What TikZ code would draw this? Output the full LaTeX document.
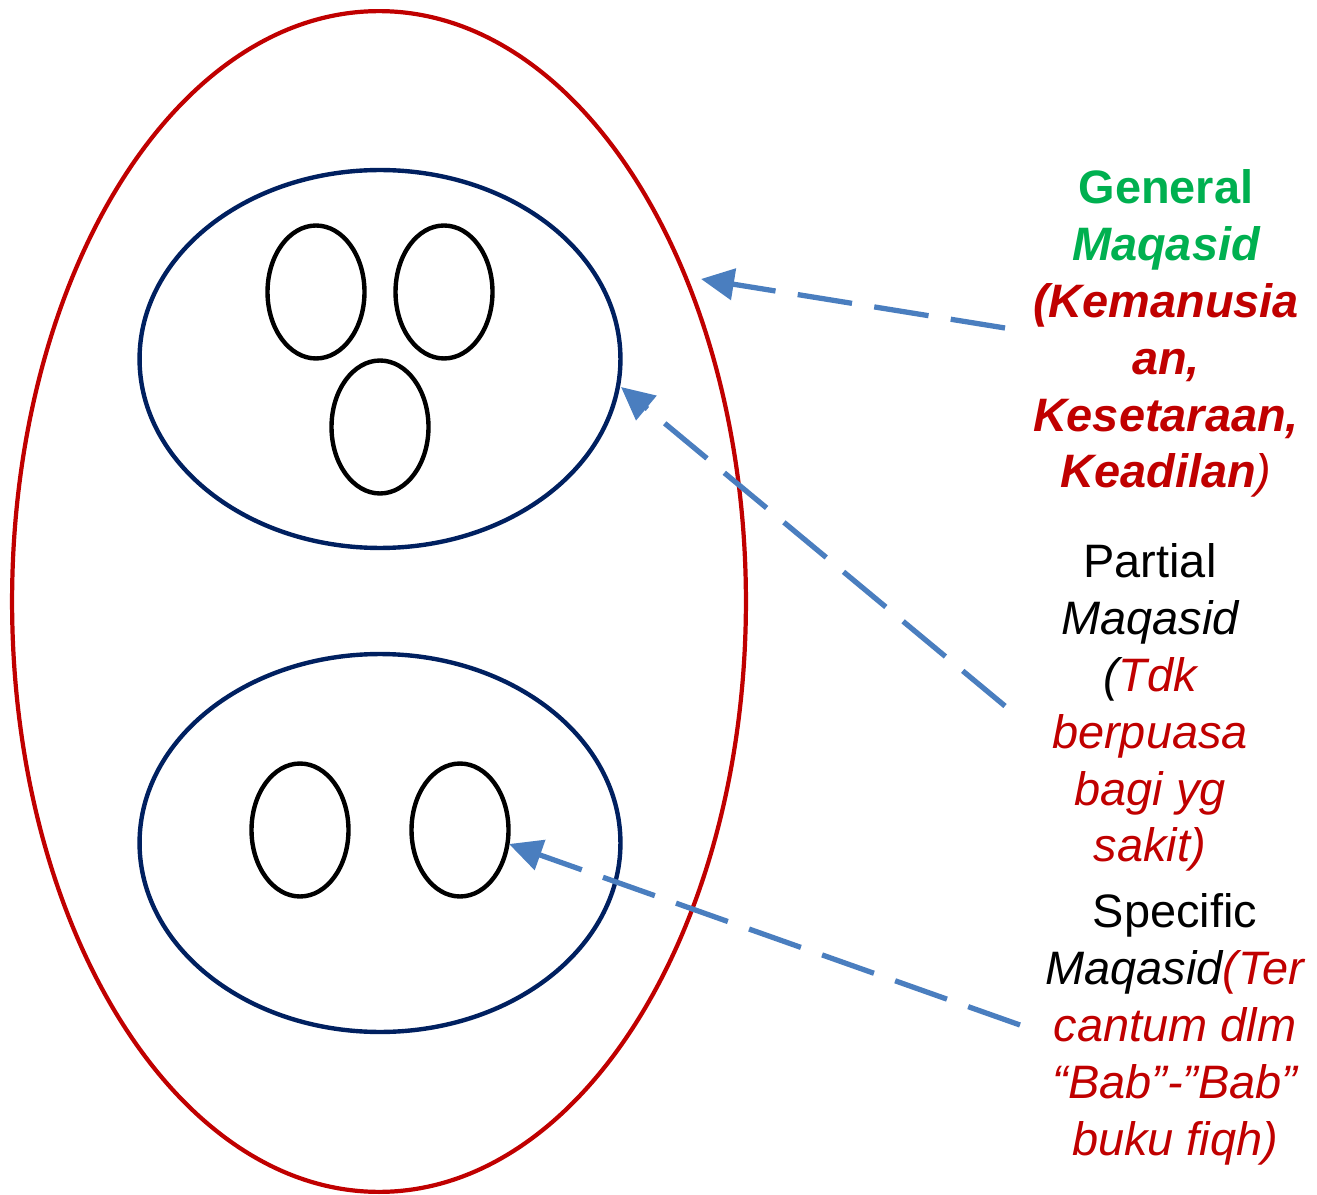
\documentclass[tikz,border=0pt]{standalone}
\usepackage{fontspec}
\setmainfont{Liberation Sans}
\usetikzlibrary{arrows.meta,shapes.geometric}
\definecolor{outerred}{HTML}{C00000}
\definecolor{navyline}{HTML}{002060}
\definecolor{genGreen}{HTML}{00B050}
\definecolor{arrowblue}{HTML}{4A7EBF}
\begin{document}
\begin{tikzpicture}[x=0.02cm,y=-0.02cm,
  outer/.style={ellipse,draw=outerred,line width=2.4pt,inner sep=0pt,minimum width=14.68cm,minimum height=23.62cm},
  group/.style={ellipse,draw=navyline,line width=2.5pt,inner sep=0pt,minimum width=9.62cm,minimum height=7.56cm},
  item/.style={ellipse,draw=black,line width=2.5pt,inner sep=0pt,minimum width=1.94cm,minimum height=2.66cm},
  pointer/.style={draw=arrowblue,line width=3pt,dash pattern=on 1.1cm off 0.45cm,
    -{Triangle[length=0.66cm,width=0.62cm]}},
  label/.style={align=center,inner sep=0pt,anchor=north,font=\fontsize{26.7}{32.4}\selectfont}
]
\useasboundingbox (0,0) rectangle (1317,1195);

% outer region and its two groups
\node[outer] (whole) at (379,601.5) {};
\node[group] (upper) at (380,359) {};
\node[group] (lower) at (380,843) {};

% members of the upper group
\node[item] (u1) at (316,292) {};
\node[item] (u2) at (444,292) {};
\node[item] (u3) at (380,427) {};

% members of the lower group
\node[item] (l1) at (300,830) {};
\node[item] (l2) at (460,830) {};

% text blocks
\node[label] (general) at (1166,169) {%
  \textcolor{genGreen}{\bfseries General}\\
  \textcolor{genGreen}{\bfseries\itshape Maqasid}\\
  \textcolor{outerred}{\bfseries\itshape (Kemanusia}\\
  \textcolor{outerred}{\bfseries\itshape an,}\\
  \textcolor{outerred}{\bfseries\itshape Kesetaraan,}\\
  \textcolor{outerred}{{\bfseries\itshape Keadilan}{\itshape )}}};

\node[label] (partial) at (1150,543) {%
  Partial\\
  {\itshape Maqasid}\\
  {\itshape (\textcolor{outerred}{Tdk}}\\
  \textcolor{outerred}{\itshape berpuasa}\\
  \textcolor{outerred}{\itshape bagi yg}\\
  \textcolor{outerred}{\itshape sakit)}};

\node[label] (specific) at (1175,893) {%
  Specific\\
  {\itshape Maqasid}\textcolor{outerred}{\itshape (Ter}\\
  \textcolor{outerred}{\itshape cantum dlm}\\
  \textcolor{outerred}{\itshape “Bab”-”Bab”}\\
  \textcolor{outerred}{\itshape buku fiqh)}};

% arrow ends
\coordinate (gTail) at (1005,328);
\coordinate (gTip) at (701,279);
\coordinate (pTail) at (1005,706);
\coordinate (pTip) at (621,387);
\coordinate (sTail) at (1020,1025);
\coordinate (sTip) at (509,844);

\draw[pointer] (gTail) -- (gTip);
\draw[pointer] (pTail) -- (pTip);
\draw[pointer] (sTail) -- (sTip);
\end{tikzpicture}
\end{document}
